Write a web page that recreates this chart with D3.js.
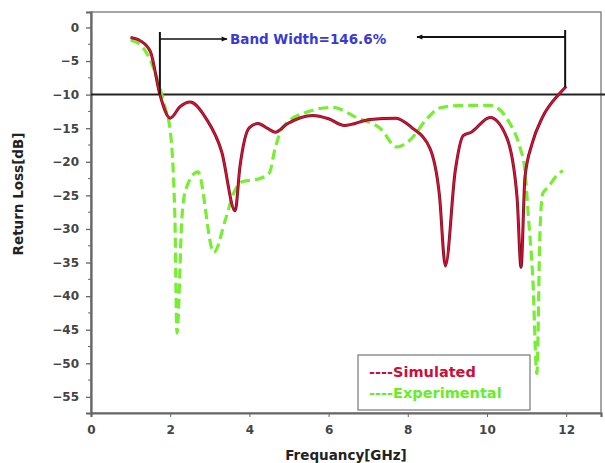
<!DOCTYPE html>
<html>
<head>
<meta charset="utf-8">
<script src="https://cdn.jsdelivr.net/npm/d3@7"></script>
<style>
  body { margin: 0; background: #fff; }
  svg { font-family: "DejaVu Sans", Verdana, sans-serif; font-weight: bold; }
</style>
</head>
<body>
<div id="chart"></div>
<script>
// simulated return loss, [GHz, dB]
var simFreq = [1.0, 1.25, 1.5, 1.74, 2.0, 2.25, 2.5, 2.9, 3.3, 3.64, 3.76, 4.0, 4.22, 4.45, 4.65, 4.97, 5.6, 6.0, 6.4, 7.05, 7.7, 8.1, 8.56, 8.8, 8.95, 9.2, 9.4, 9.6, 10.08, 10.5, 10.76, 10.86, 10.96, 11.14, 11.4, 11.84, 12.0];
var simDb   = [-1.5, -2.0, -3.6, -10.0, -13.5, -11.8, -11.1, -13.5, -18.5, -27.3, -20.8, -14.9, -14.3, -15.0, -15.6, -14.3, -13.1, -13.6, -14.6, -13.7, -13.5, -14.9, -18.0, -25.0, -35.5, -21.3, -16.1, -15.6, -13.4, -16.4, -25.3, -35.7, -22.3, -17.3, -13.4, -9.8, -8.8];

// experimental return loss, [GHz, dB]
var expFreq = [1.0, 1.25, 1.5, 1.87, 2.0, 2.12, 2.17, 2.3, 2.4, 2.7, 3.1, 3.4, 3.6, 3.85, 4.2, 4.5, 4.65, 4.85, 5.45, 6.1, 6.7, 7.3, 7.73, 8.05, 8.5, 8.8, 9.4, 10.08, 10.58, 10.83, 10.96, 11.04, 11.16, 11.26, 11.34, 11.41, 11.54, 11.77, 11.92];
var expDb   = [-1.9, -2.6, -4.9, -11.9, -15.3, -28.7, -45.5, -28.0, -24.0, -21.5, -33.5, -28.5, -24.7, -22.9, -22.6, -21.7, -18.0, -14.8, -12.6, -11.9, -13.4, -15.0, -17.8, -16.8, -13.5, -12.0, -11.6, -11.6, -14.3, -17.8, -21.3, -27.7, -37.6, -51.5, -30.2, -24.7, -23.8, -22.0, -21.3];

var xTicks = [0, 2, 4, 6, 8, 10, 12];
var yTicks = [0, -5, -10, -15, -20, -25, -30, -35, -40, -45, -50, -55];
var cutoffDb = -10;
var bandLow = 1.74, bandHigh = 12.0;
var bandLabel = "Band Width=146.6%";
var seriesNames = ["----Simulated", "----Experimental"];

var W = 605, H = 463;
var margin = { top: 12, right: 4, bottom: 50, left: 91 };
var width = W - margin.left - margin.right,
    height = H - margin.top - margin.bottom;

var svg = d3.select("#chart").append("svg")
    .attr("width", W)
    .attr("height", H);

var g = svg.append("g")
    .attr("transform", "translate(" + margin.left + "," + margin.top + ")");

var x = d3.scaleLinear().domain([0, 12.88]).range([0, width]);
var y = d3.scaleLinear().domain([2.3, -57.4]).range([0, height]);

// frame
g.append("rect")
    .attr("width", width)
    .attr("height", height)
    .attr("fill", "none")
    .attr("stroke", "#888")
    .attr("stroke-width", 1.5);

// y axis
var yAxis = d3.axisLeft(y).tickValues(yTicks).tickSize(5).tickPadding(7);
var gy = g.append("g").call(yAxis);
gy.select(".domain").attr("stroke", "#666").attr("stroke-width", 2.2);
gy.selectAll(".tick line").attr("stroke", "#666").attr("stroke-width", 1.3);
gy.selectAll("text").attr("font-size", 12).attr("fill", "#444")
    .attr("font-family", "DejaVu Sans").attr("font-weight", "bold");

var yMinor = d3.range(-57.5, 2.5, 2.5).filter(function(v) { return yTicks.indexOf(v) < 0; });
g.append("g").selectAll("line")
    .data(yMinor)
    .enter().append("line")
    .attr("x1", -3).attr("x2", 0)
    .attr("y1", function(d) { return y(d); })
    .attr("y2", function(d) { return y(d); })
    .attr("stroke", "#666");

// x axis
var xAxis = d3.axisBottom(x).tickValues(xTicks).tickSize(4).tickPadding(8);
var gx = g.append("g").attr("transform", "translate(0," + height + ")").call(xAxis);
gx.select(".domain").attr("stroke", "#666").attr("stroke-width", 2.2);
gx.selectAll(".tick line").attr("stroke", "#666");
gx.selectAll("text").attr("font-size", 12).attr("fill", "#444")
    .attr("font-family", "DejaVu Sans").attr("font-weight", "bold");

// axis titles
svg.append("text")
    .attr("transform", "translate(23,194) rotate(-90)")
    .attr("text-anchor", "middle")
    .attr("font-size", 13.5)
    .attr("fill", "#222")
    .text("Return Loss[dB]");

svg.append("text")
    .attr("x", margin.left + width / 2)
    .attr("y", 460)
    .attr("text-anchor", "middle")
    .attr("font-size", 13.5)
    .attr("fill", "#222")
    .text("Frequancy[GHz]");

// -10 dB reference line, runs past the frame
g.append("line")
    .attr("x1", 0).attr("x2", W - margin.left)
    .attr("y1", y(cutoffDb)).attr("y2", y(cutoffDb))
    .attr("stroke", "#222")
    .attr("stroke-width", 2);

var line = d3.line()
    .x(function(d) { return x(d[0]); })
    .y(function(d) { return y(d[1]); })
    .curve(d3.curveMonotoneX);

var expData = d3.zip(expFreq, expDb);
var simData = d3.zip(simFreq, simDb);

g.append("path")
    .datum(expData)
    .attr("d", line)
    .attr("fill", "none")
    .attr("stroke", "#77ee33")
    .attr("stroke-width", 3.2)
    .attr("stroke-dasharray", "10,5");

g.append("path")
    .datum(simData)
    .attr("d", line)
    .attr("fill", "none")
    .attr("stroke", "#7a1020")
    .attr("stroke-width", 3);

g.append("path")
    .datum(simData)
    .attr("d", line)
    .attr("fill", "none")
    .attr("stroke", "#e0103a")
    .attr("stroke-width", 1.4);

// bandwidth annotation
svg.append("defs").append("marker")
    .attr("id", "arr")
    .attr("viewBox", "0 0 10 10")
    .attr("refX", 9).attr("refY", 5)
    .attr("markerWidth", 7).attr("markerHeight", 6)
    .attr("markerUnits", "userSpaceOnUse")
    .attr("orient", "auto")
    .append("path")
    .attr("d", "M0,1L10,5L0,9z")
    .attr("fill", "#111");

var annY = 27, annYR = 25;
var xl = x(bandLow), xr = x(bandHigh) - 1;

g.append("line")
    .attr("x1", xl).attr("x2", xl)
    .attr("y1", 20).attr("y2", y(cutoffDb))
    .attr("stroke", "#111").attr("stroke-width", 2);
g.append("line")
    .attr("x1", xl).attr("x2", 136)
    .attr("y1", annY).attr("y2", annY)
    .attr("stroke", "#111").attr("stroke-width", 1.5)
    .attr("marker-end", "url(#arr)");

g.append("line")
    .attr("x1", xr).attr("x2", xr)
    .attr("y1", 18).attr("y2", y(-8.9))
    .attr("stroke", "#111").attr("stroke-width", 2);
g.append("line")
    .attr("x1", xr).attr("x2", 326)
    .attr("y1", annYR).attr("y2", annYR)
    .attr("stroke", "#111").attr("stroke-width", 2)
    .attr("marker-end", "url(#arr)");

g.append("text")
    .attr("x", 139)
    .attr("y", annY + 5)
    .attr("font-size", 13.5)
    .attr("fill", "#3a3ad0")
    .text(bandLabel);

// legend
var lg = g.append("g").attr("transform", "translate(" + (358 - margin.left) + "," + (355 - margin.top) + ")");
lg.append("rect")
    .attr("width", 172).attr("height", 55)
    .attr("fill", "#fff")
    .attr("stroke", "#777")
    .attr("stroke-width", 1.2);
lg.selectAll("text")
    .data(seriesNames)
    .enter().append("text")
    .attr("x", 11)
    .attr("y", function(d, i) { return 22 + i * 21; })
    .attr("font-size", 14.5)
    .attr("fill", function(d, i) { return i === 0 ? "#c8103a" : "#66ee22"; })
    .text(function(d) { return d; });
</script>
</body>
</html>
